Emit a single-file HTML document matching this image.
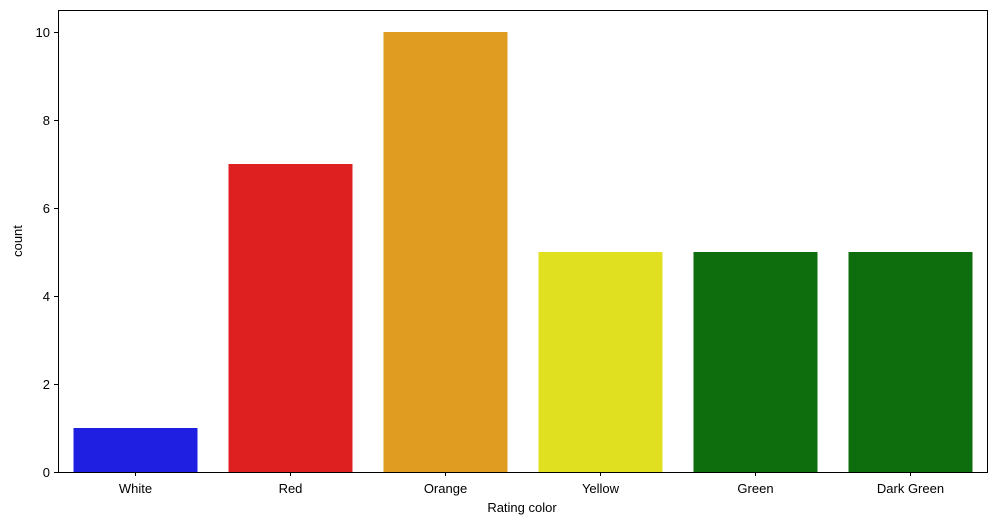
<!DOCTYPE html>
<html><head><meta charset="utf-8"><style>
body{margin:0;background:#fff;}
svg text{font-family:"Liberation Sans","DejaVu Sans",sans-serif;font-size:13px;fill:#000;}
</style></head><body>
<svg id="chart" width="997" height="525">
<rect x="58.5" y="10.5" width="929" height="462" fill="none" stroke="#000" stroke-width="1"/>
<g id="bars"></g><g id="xticks"></g><g id="yticks"></g>
<text x="522" y="512" text-anchor="middle">Rating color</text>
<text transform="translate(22,241) rotate(-90)" text-anchor="middle">count</text>
</svg>
<script>
const categories=["White","Red","Orange","Yellow","Green","Dark Green"];
const counts=[1,7,10,5,5,5];
const colors=["#1f1fe1","#df2020","#e09c20","#e0e020","#0e6e0e","#0e6e0e"];
const yTicks=[0,2,4,6,8,10];
const L=58,R=988,B=472,T=32;
const step=(R-L)/categories.length;
function x(i){return L+step*(i+0.5);}
function y(v){return B-(B-T)*v/10;}
const ns="http://www.w3.org/2000/svg";
const bars=document.getElementById('bars'),xt=document.getElementById('xticks'),yt=document.getElementById('yticks');
categories.forEach((c,i)=>{
 const r=document.createElementNS(ns,'rect');
 r.setAttribute('x',x(i)-step*0.4);r.setAttribute('width',step*0.8);
 r.setAttribute('y',y(counts[i]));r.setAttribute('height',y(0)-y(counts[i]));
 r.setAttribute('fill',colors[i]);
 
 
 bars.appendChild(r);
 const l=document.createElementNS(ns,'line');
 l.setAttribute('x1',x(i));l.setAttribute('x2',x(i));l.setAttribute('y1',B);l.setAttribute('y2',B+4);l.setAttribute('stroke','#000');
 
 
 xt.appendChild(l);
 const t=document.createElementNS(ns,'text');
 t.setAttribute('x',x(i));t.setAttribute('y',B+21);t.setAttribute('text-anchor','middle');t.textContent=c;
 
 
 xt.appendChild(t);
});
yTicks.forEach(v=>{
 const l=document.createElementNS(ns,'line');
 l.setAttribute('x1',L-4);l.setAttribute('x2',L);l.setAttribute('y1',y(v)+0.5);l.setAttribute('y2',y(v)+0.5);l.setAttribute('stroke','#000');
 
 
 yt.appendChild(l);
 const t=document.createElementNS(ns,'text');
 t.setAttribute('x',L-8);t.setAttribute('y',y(v)+5);t.setAttribute('text-anchor','end');t.textContent=v;
 
 
 yt.appendChild(t);
});
</script>
</body></html>
